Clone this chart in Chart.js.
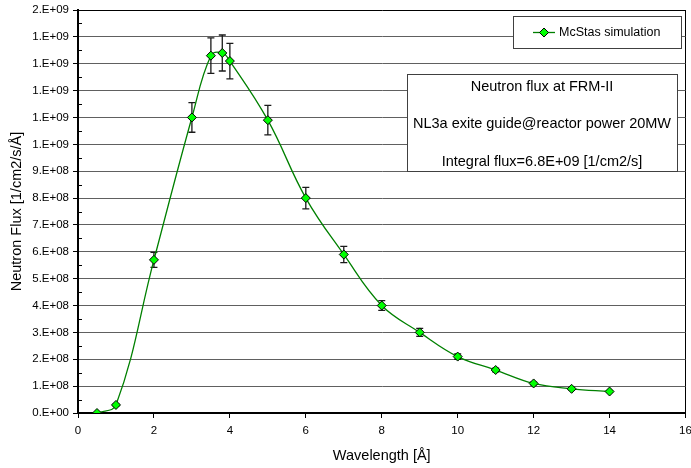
<!DOCTYPE html>
<html>
<head>
<meta charset="utf-8">
<script src="https://cdn.jsdelivr.net/npm/chart.js@4.4.1/dist/chart.umd.min.js"></script>
<style>
  html, body { margin: 0; padding: 0; background: #fff; }
</style>
</head>
<body>
<canvas id="fluxChart" width="691" height="468"></canvas>
<script>
// McStas spectrum at NL3a, FRM-II
var wavelength = [0.5, 1, 2, 3, 3.5, 3.8, 4, 5, 6, 7, 8, 9, 10, 11, 12, 13, 14];
var flux = [0, 3e7, 5.7e8, 1.1e9, 1.33e9, 1.34e9, 1.31e9, 1.09e9, 8.0e8, 5.9e8, 4.0e8, 3.0e8, 2.1e8, 1.6e8, 1.1e8, 9e7, 8e7];
var fluxErr = [0, 3e6, 2.8e7, 5.5e7, 6.6e7, 6.7e7, 6.6e7, 5.5e7, 4e7, 3e7, 1.8e7, 1.5e7, 1e7, 7e6, 5e6, 4e6, 3e6];
var yTickLabels = ['0.E+00', '1.E+08', '2.E+08', '3.E+08', '4.E+08', '5.E+08', '6.E+08', '7.E+08',
  '8.E+08', '9.E+08', '1.E+09', '1.E+09', '1.E+09', '1.E+09', '1.E+09', '2.E+09'];
var noteLines = ['Neutron flux at FRM-II', 'NL3a exite guide@reactor power 20MW', 'Integral flux=6.8E+09 [1/cm2/s]'];

var FONT = "'Liberation Sans', Arial, sans-serif";
var LINE_GREEN = '#008000';
var MARK_GREEN = '#00ff00';

// vertical error bars with caps, drawn under the curve and markers
var errorBars = {
  id: 'errorBars',
  beforeDatasetsDraw: function(chart) {
    var ctx = chart.ctx, x = chart.scales.x, y = chart.scales.y;
    ctx.save();
    ctx.strokeStyle = '#1a1a1a';
    ctx.lineWidth = 1.3;
    for (var i = 0; i < wavelength.length; i++) {
      var e = fluxErr[i];
      if (!e) continue;
      var px = x.getPixelForValue(wavelength[i]);
      var top = y.getPixelForValue(flux[i] + e);
      var bot = y.getPixelForValue(flux[i] - e);
      ctx.beginPath();
      ctx.moveTo(px, top); ctx.lineTo(px, bot);
      ctx.moveTo(px - 3.5, top); ctx.lineTo(px + 3.5, top);
      ctx.moveTo(px - 3.5, bot); ctx.lineTo(px + 3.5, bot);
      ctx.stroke();
    }
    ctx.restore();
  }
};

// small inside ticks half way between the labelled ones on the y axis
var minorTicks = {
  id: 'minorTicks',
  afterDraw: function(chart) {
    var ctx = chart.ctx, y = chart.scales.y, left = chart.chartArea.left;
    ctx.save();
    ctx.strokeStyle = '#000';
    ctx.lineWidth = 1;
    for (var v = 5e7; v < y.max; v += 1e8) {
      var py = Math.round(y.getPixelForValue(v)) + 0.5;
      ctx.beginPath();
      ctx.moveTo(left, py);
      ctx.lineTo(left + 4, py);
      ctx.stroke();
    }
    ctx.restore();
  }
};

// legend box and the note box inside the plot
var boxes = {
  id: 'boxes',
  afterDraw: function(chart) {
    var ctx = chart.ctx;
    ctx.save();

    // legend
    ctx.fillStyle = '#fff';
    ctx.strokeStyle = '#404040';
    ctx.lineWidth = 1;
    ctx.fillRect(513, 16, 168, 32);
    ctx.strokeRect(513.5, 16.5, 168, 32);
    ctx.strokeStyle = LINE_GREEN;
    ctx.lineWidth = 1.3;
    ctx.beginPath();
    ctx.moveTo(533, 32.5);
    ctx.lineTo(555, 32.5);
    ctx.stroke();
    ctx.beginPath();
    ctx.moveTo(544, 28); ctx.lineTo(548.5, 32.5); ctx.lineTo(544, 37); ctx.lineTo(539.5, 32.5);
    ctx.closePath();
    ctx.fillStyle = MARK_GREEN;
    ctx.fill();
    ctx.strokeStyle = '#000';
    ctx.lineWidth = 1;
    ctx.stroke();
    ctx.fillStyle = '#000';
    ctx.font = '12.5px ' + FONT;
    ctx.textAlign = 'left';
    ctx.textBaseline = 'middle';
    ctx.fillText(chart.data.datasets[0].label, 559, 32.5);

    // note box
    ctx.fillStyle = '#fff';
    ctx.fillRect(407, 74, 270, 97);
    ctx.strokeStyle = '#404040';
    ctx.strokeRect(407.5, 74.5, 270, 97);
    ctx.fillStyle = '#000';
    ctx.font = '14.5px ' + FONT;
    ctx.textAlign = 'center';
    var rows = [86.5, 124, 161.5];
    for (var i = 0; i < noteLines.length; i++) {
      ctx.fillText(noteLines[i], 542, rows[i]);
    }
    ctx.restore();
  }
};

function zeroPadding(scale) {
  scale.paddingLeft = 0;
  scale.paddingRight = 0;
  scale.paddingTop = 0;
  scale.paddingBottom = 0;
}

var ctx = document.getElementById('fluxChart');
var fluxChart = new Chart(ctx, {
  type: 'scatter',
  data: {
    datasets: [{
      label: 'McStas simulation',
      data: wavelength.map(function(w, i) { return { x: w, y: flux[i] }; }),
      showLine: true,
      tension: 0.4,
      borderColor: LINE_GREEN,
      borderWidth: 1.3,
      pointStyle: 'rectRot',
      pointRadius: 4.5,
      pointBackgroundColor: MARK_GREEN,
      pointBorderColor: '#000',
      pointBorderWidth: 1
    }]
  },
  options: {
    responsive: false,
    animation: false,
    layout: { padding: { left: 0, right: 4, top: 10, bottom: 0 } },
    plugins: {
      legend: { display: false },
      tooltip: { enabled: false }
    },
    scales: {
      x: {
        type: 'linear',
        min: 0,
        max: 16,
        ticks: {
          stepSize: 2,
          maxRotation: 0,
          padding: 6,
          color: '#000',
          font: { family: FONT, size: 11.5 }
        },
        grid: {
          color: function(c) { return c.tick && c.tick.value === 16 ? '#000' : 'rgba(0,0,0,0)'; },
          tickColor: '#000',
          tickLength: 5,
          lineWidth: 1
        },
        border: { color: '#000', width: 2 },
        title: {
          display: true,
          text: 'Wavelength [Å]',
          color: '#000',
          font: { family: FONT, size: 14.5 },
          padding: { top: 0, bottom: 3 }
        },
        afterFit: function(scale) { scale.height = 55; zeroPadding(scale); }
      },
      y: {
        min: 0,
        max: 1.5e9,
        ticks: {
          stepSize: 1e8,
          padding: 4,
          color: '#000',
          font: { family: FONT, size: 11.5 },
          callback: function(value, index) { return yTickLabels[index]; }
        },
        grid: {
          color: function(c) { return c.tick && c.tick.value >= 1.5e9 ? '#000' : '#606060'; },
          tickColor: '#000',
          tickLength: 5,
          lineWidth: 1
        },
        border: { color: '#000', width: 2 },
        title: {
          display: true,
          text: 'Neutron Flux [1/cm2/s/Å]',
          color: '#000',
          font: { family: FONT, size: 14.5 },
          padding: { top: 8, bottom: 0 }
        },
        afterFit: function(scale) { scale.width = 78; zeroPadding(scale); }
      }
    }
  },
  plugins: [errorBars, minorTicks, boxes]
});
</script>
</body>
</html>
